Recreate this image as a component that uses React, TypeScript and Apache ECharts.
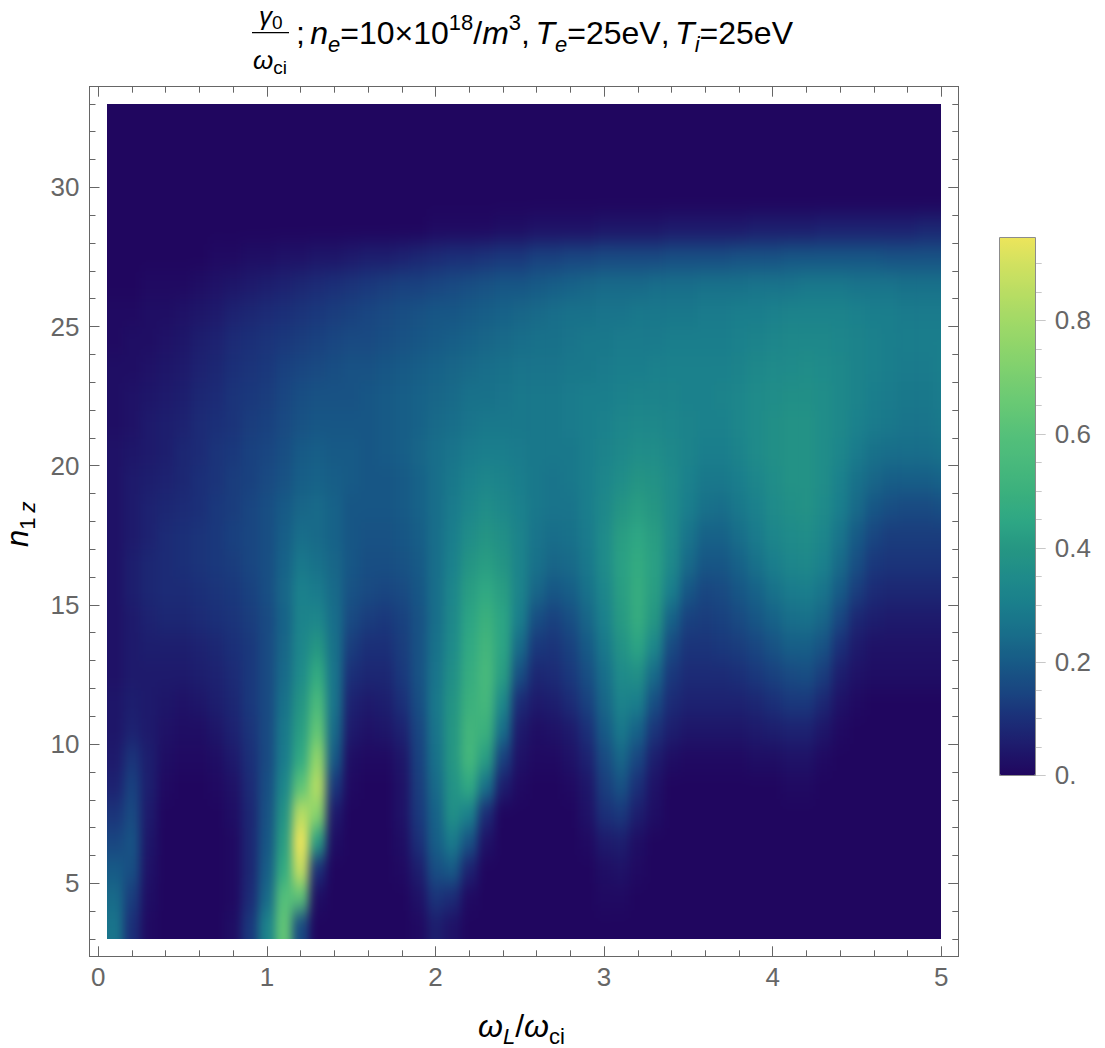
import React, { useEffect, useRef } from "react";
import * as echarts from "echarts";

// Column centres of the gamma grid (omega_L / omega_ci)
const omegaValues = [
  0.1, 0.2, 0.3, 0.4, 0.5, 0.6, 0.7, 0.8, 0.9, 1.0, 1.1, 1.2, 1.3, 1.4, 1.5, 1.6, 1.7, 1.8, 1.9, 2.0, 2.1, 2.2, 2.3, 2.4, 2.5,
  2.6, 2.7, 2.8, 2.9, 3.0, 3.1, 3.2, 3.3, 3.4, 3.5, 3.6, 3.7, 3.8, 3.9, 4.0, 4.1, 4.2, 4.3, 4.4, 4.5, 4.6, 4.7, 4.8, 4.9, 5.0,
];
// Row centres (n_1z)
const n1zValues = [
  3.5, 4.5, 5.5, 6.5, 7.5, 8.5, 9.5, 10.5, 11.5, 12.5, 13.5, 14.5, 15.5, 16.5, 17.5, 18.5, 19.5, 20.5, 21.5, 22.5, 23.5, 24.5,
  25.5, 26.5, 27.5, 28.5, 29.5, 30.5, 31.5, 32.5,
];
// gamma0/omega_ci x 100; one line per n_1z row, bottom row first
const gammaPercent = [
  [27,10,1,0,0,0,0,2,12,32,64,16,0,0,0,0,0,0,1,6,3,0,0,0,0,0,0,0,0,0,0,0,0,0,0,0,0,0,0,0,0,0,0,0,0,0,0,0,0,0],
  [24,13,2,0,0,0,0,1,9,24,60,62,2,0,0,0,0,0,3,11,9,1,0,0,0,0,0,0,0,1,1,0,0,0,0,0,0,0,0,0,0,0,0,0,0,0,0,0,0,0],
  [20,17,3,0,0,0,0,1,8,21,47,88,10,0,0,0,0,1,6,17,20,7,0,0,0,0,0,0,0,2,3,1,0,0,0,0,0,0,0,0,0,0,0,0,0,0,0,0,0,0],
  [15,18,4,0,0,0,0,1,8,19,42,97,42,2,0,0,0,2,10,21,29,18,3,0,0,0,0,0,1,5,6,2,0,0,0,0,0,0,0,0,0,0,0,0,0,0,0,0,0,0],
  [11,16,5,0,0,0,0,2,8,18,38,85,74,5,0,0,0,3,12,22,37,31,9,0,0,0,0,0,3,10,12,6,2,0,0,0,0,0,0,0,0,0,0,0,0,0,0,0,0,0],
  [7,14,6,1,0,0,1,3,9,17,33,62,84,12,1,0,0,3,13,24,38,46,26,6,1,0,0,1,4,13,18,10,3,0,0,0,0,0,0,0,1,1,0,0,0,0,0,0,0,0],
  [5,11,6,2,1,1,2,5,10,16,29,46,76,20,2,1,1,4,14,26,40,54,42,14,3,1,1,3,7,16,23,15,6,2,1,1,1,1,2,2,3,3,1,0,0,0,0,0,0,0],
  [4,7,5,3,2,2,4,7,11,16,28,42,64,24,5,3,4,7,15,27,40,53,50,25,5,2,3,5,10,20,28,22,11,6,4,4,4,4,5,6,7,7,4,1,0,0,0,0,0,0],
  [4,6,5,4,3,4,6,8,12,16,26,39,56,27,7,5,6,10,17,28,39,50,54,34,9,5,6,9,14,23,32,30,17,9,7,7,7,7,8,10,12,12,8,3,1,0,0,0,0,0],
  [3,5,5,5,5,6,7,9,12,16,24,35,47,27,10,8,8,12,18,27,37,48,55,42,17,8,9,12,17,25,35,37,24,12,9,9,9,10,12,14,16,17,13,6,3,2,2,2,2,2],
  [3,5,6,6,6,7,8,10,12,16,23,33,40,26,13,10,10,13,18,26,35,46,53,44,24,12,11,14,20,28,38,44,33,16,11,11,12,13,15,18,21,21,18,10,5,3,3,3,3,3],
  [3,5,7,8,8,9,10,11,13,16,22,32,33,25,16,13,12,14,18,25,34,44,50,44,30,17,14,17,23,31,41,48,40,22,14,13,14,16,19,22,25,26,23,15,8,6,5,5,5,5],
  [3,6,8,9,9,10,11,12,14,17,23,31,29,24,18,16,15,16,19,25,33,42,46,42,32,23,19,21,26,33,42,48,42,30,19,15,16,19,22,26,29,30,27,20,13,9,8,8,8,8],
  [3,6,8,9,10,11,12,13,15,17,22,28,26,23,19,17,17,18,20,25,31,39,42,39,32,26,23,24,28,35,43,47,43,34,24,19,19,22,26,30,33,34,31,24,17,12,11,11,11,11],
  [3,5,7,9,10,11,12,14,15,17,21,25,24,22,19,18,18,19,21,25,30,36,39,37,32,27,25,26,29,35,42,45,42,35,27,22,22,25,29,33,35,36,33,27,20,15,13,13,13,13],
  [3,5,7,8,9,10,12,13,15,17,20,23,24,22,19,19,19,20,22,25,29,33,36,34,31,28,27,27,30,34,39,42,40,35,30,26,25,28,31,35,37,38,35,30,24,19,17,16,16,17],
  [3,5,6,7,8,10,11,13,14,16,18,21,22,21,20,19,19,20,22,25,28,31,33,32,30,28,27,28,30,33,36,39,38,35,31,28,28,30,33,36,38,38,36,31,26,23,21,21,21,22],
  [3,4,5,6,8,9,11,12,14,15,17,20,21,20,20,19,20,21,23,25,27,29,30,30,29,28,28,28,30,32,34,36,36,34,32,30,30,32,35,37,38,38,36,33,29,26,25,25,25,26],
  [2,3,5,6,7,9,10,11,13,14,16,18,19,19,19,19,20,21,22,24,25,27,28,28,28,28,28,29,30,31,33,34,34,33,32,31,31,33,35,37,38,38,36,34,31,29,28,27,27,28],
  [2,3,4,5,6,8,9,11,12,13,15,17,18,18,18,19,20,21,22,23,24,26,26,27,28,28,28,29,30,30,31,32,32,32,31,31,32,33,35,36,37,37,36,34,32,30,29,28,28,29],
  [2,2,3,4,5,7,8,10,11,12,14,15,16,17,18,18,19,20,21,22,23,24,25,26,27,27,27,28,28,29,30,30,31,31,31,31,31,32,34,35,35,36,35,34,32,31,30,29,29,30],
  [1,2,2,3,4,6,7,9,10,11,12,13,14,15,16,16,17,18,19,20,21,22,23,24,25,26,26,27,28,28,29,29,29,30,30,30,30,31,32,33,34,34,34,33,32,31,30,30,30,30],
  [1,1,2,2,3,4,5,7,8,9,10,11,12,13,14,15,16,17,18,19,19,20,21,22,23,24,25,26,26,27,27,28,28,28,28,29,29,30,30,31,32,32,32,32,31,30,30,29,29,29],
  [0,0,1,1,1,2,3,4,5,6,7,8,9,10,11,12,13,14,14,15,16,17,18,19,19,20,21,22,23,24,24,24,25,25,25,26,26,26,27,27,27,28,28,28,27,27,27,26,26,26],
  [0,0,0,0,0,0,1,1,2,2,3,3,4,4,5,6,6,7,8,9,10,10,11,12,12,14,14,15,15,16,16,16,16,17,17,17,17,18,18,18,19,19,19,19,19,19,18,18,18,18],
  [0,0,0,0,0,0,0,0,0,0,0,0,0,0,0,0,0,0,0,1,1,1,1,2,2,3,3,3,3,4,4,4,4,5,5,5,5,5,6,6,6,6,7,7,7,7,7,7,8,8],
  [0,0,0,0,0,0,0,0,0,0,0,0,0,0,0,0,0,0,0,0,0,0,0,0,0,0,0,0,0,0,0,0,0,0,0,0,0,0,0,0,0,0,0,0,0,0,0,0,0,0],
  [0,0,0,0,0,0,0,0,0,0,0,0,0,0,0,0,0,0,0,0,0,0,0,0,0,0,0,0,0,0,0,0,0,0,0,0,0,0,0,0,0,0,0,0,0,0,0,0,0,0],
  [0,0,0,0,0,0,0,0,0,0,0,0,0,0,0,0,0,0,0,0,0,0,0,0,0,0,0,0,0,0,0,0,0,0,0,0,0,0,0,0,0,0,0,0,0,0,0,0,0,0],
  [0,0,0,0,0,0,0,0,0,0,0,0,0,0,0,0,0,0,0,0,0,0,0,0,0,0,0,0,0,0,0,0,0,0,0,0,0,0,0,0,0,0,0,0,0,0,0,0,0,0],
];

// Colour bar stops, every 0.05 from 0 to 0.95
const colorStops = [
  "#20065f", "#1e1a6c", "#1b2f78", "#194681", "#175a86", "#186e8a", "#1a7e8c", "#1f8b8a", "#259683", "#2ea784",
  "#3bb07d", "#48b97c", "#54c07a", "#66c875", "#78ce70", "#8cd46b", "#a0d967", "#b8dd63", "#d0e160", "#ede55b",
];

const xMajorTicks = [0, 1, 2, 3, 4, 5];
const xMinorTicks = [0.2, 0.4, 0.6, 0.8, 1.2, 1.4, 1.6, 1.8, 2.2, 2.4, 2.6, 2.8, 3.2, 3.4, 3.6, 3.8, 4.2, 4.4, 4.6, 4.8];
const yMajorTicks = [5, 10, 15, 20, 25, 30];
const yMinorTicks = [3, 4, 6, 7, 8, 9, 11, 12, 13, 14, 16, 17, 18, 19, 21, 22, 23, 24, 26, 27, 28, 29, 31, 32, 33];
const barMajorTicks = [0, 0.2, 0.4, 0.6, 0.8];
const barMinorTicks = [0.05, 0.1, 0.15, 0.25, 0.3, 0.35, 0.45, 0.5, 0.55, 0.65, 0.7, 0.75, 0.85, 0.9];

// Page geometry
const X0 = 98.3;
const X_UNIT = 168.6;
const Y5 = 883.3;
const Y_UNIT = 27.84;
const FRAME = { left: 89.5, top: 86.7, right: 958.3, bottom: 956.3 };
const HEAT = { left: 106.7, top: 103.9, right: 941.3, bottom: 939 };
const BAR = { left: 999.3, top: 237.3, right: 1035.7, bottom: 775.3 };
const BAR_UNIT = 569;
const xAt = (v: number) => X0 + v * X_UNIT;
const yAt = (v: number) => Y5 - (v - 5) * Y_UNIT;
const FONT = '"Liberation Sans", Arial, sans-serif';

type Piece = { t: string; size: number; italic?: boolean; dy?: number };

const measure = (() => {
  const ctx = document.createElement("canvas").getContext("2d")!;
  return (p: Piece) => {
    ctx.font = `${p.italic ? "italic " : ""}${p.size}px ${FONT}`;
    return ctx.measureText(p.t).width;
  };
})();

// Sets a run of pieces on a baseline, either left-to-right or rotated to read upwards
function run(pieces: Piece[], x: number, baseline: number, vertical = false) {
  let pos = vertical ? baseline : x;
  const out: any[] = [];
  for (const p of pieces) {
    const w = measure(p);
    if (p.t.trim()) {
      const shift = (p.dy ?? 0) - 0.36 * p.size;
      out.push({
        type: "text",
        x: vertical ? x + shift : pos,
        y: vertical ? pos : baseline + shift,
        rotation: vertical ? Math.PI / 2 : 0,
        silent: true,
        style: {
          text: p.t,
          fill: "#000",
          font: `${p.italic ? "italic " : ""}${p.size}px ${FONT}`,
          textAlign: "left",
          textVerticalAlign: "middle",
        },
      });
    }
    pos += vertical ? -w : w;
  }
  return out;
}

// Tick marks of the colour bar, placed from its value scale
const barTicks = (values: number[], length: number) =>
  values.map((v) => {
    const y = Math.round(BAR.bottom - v * BAR_UNIT) + 0.5;
    return {
      type: "line",
      silent: true,
      z: 100,
      shape: { x1: BAR.right, y1: y, x2: BAR.right + length, y2: y },
      style: { stroke: "#c8c8c8", lineWidth: 1 },
    };
  });

const frameAxis = (
  dim: "x" | "y",
  gridIndex: number,
  position: string,
  min: number,
  max: number,
  ticks: number[],
  length: number,
  labels: boolean,
) => ({
  type: "value",
  gridIndex,
  position,
  min,
  max,
  axisLine: { show: true, onZero: false, lineStyle: { color: "#666", width: 1 } },
  axisTick: { show: true, inside: true, length, customValues: ticks, lineStyle: { color: "#666", width: 1 } },
  axisLabel: labels
    ? { show: true, customValues: ticks, color: "#666", fontFamily: FONT, fontSize: 26, margin: dim === "x" ? 8 : 10 }
    : { show: false },
  splitLine: { show: false },
  minorTick: { show: false },
});

export default function App() {
  const heatRef = useRef<HTMLDivElement>(null);
  const topRef = useRef<HTMLDivElement>(null);

  useEffect(() => {
    // Heat layer: edge cells repeat once outside the clip so the smoothing does not fade at the border
    const rows = [gammaPercent[0], ...gammaPercent, gammaPercent[gammaPercent.length - 1]].map((r) => [
      r[0],
      ...r,
      r[r.length - 1],
    ]);
    const xCats = ["", ...omegaValues.map(String), ""].map((s, i) => s || `pad${i}`);
    const yCats = ["", ...n1zValues.map(String), ""].map((s, i) => s || `pad${i}`);
    const cells: number[][] = [];
    rows.forEach((r, j) => r.forEach((v, i) => cells.push([i, j, v / 100])));

    const heat = echarts.init(heatRef.current!, null, { renderer: "svg" });
    heat.setOption({
      animation: false,
      backgroundColor: "#20065f",
      grid: { left: 0, right: 0, top: 0, bottom: 0 },
      xAxis: { type: "category", data: xCats, show: false },
      yAxis: { type: "category", data: yCats, show: false },
      visualMap: { show: false, min: 0, max: 0.95, dimension: 2, inRange: { color: colorStops } },
      series: [{ type: "heatmap", data: cells, progressive: 0, silent: true, itemStyle: { borderWidth: 0 } }],
    });

    const xMin = (FRAME.left - X0) / X_UNIT;
    const xMax = (FRAME.right - X0) / X_UNIT;
    const yMin = 5 - (FRAME.bottom - Y5) / Y_UNIT;
    const yMax = 5 + (Y5 - FRAME.top) / Y_UNIT;
    const barMax = (BAR.bottom - BAR.top) / BAR_UNIT;
    const frameGrid = {
      left: FRAME.left,
      top: FRAME.top,
      width: FRAME.right - FRAME.left,
      height: FRAME.bottom - FRAME.top,
    };
    const barGrid = { left: BAR.left, top: BAR.top, width: BAR.right - BAR.left, height: BAR.bottom - BAR.top };

    const top = echarts.init(topRef.current!, null, { renderer: "svg" });
    top.setOption({
      animation: false,
      grid: [frameGrid, frameGrid, barGrid],
      xAxis: [
        frameAxis("x", 0, "bottom", xMin, xMax, xMajorTicks, 10, true),
        frameAxis("x", 0, "top", xMin, xMax, xMajorTicks, 10, false),
        frameAxis("x", 1, "bottom", xMin, xMax, xMinorTicks, 6, false),
        frameAxis("x", 1, "top", xMin, xMax, xMinorTicks, 6, false),
        { type: "value", gridIndex: 2, position: "bottom", min: 0, max: 1, show: false },
      ],
      yAxis: [
        frameAxis("y", 0, "left", yMin, yMax, yMajorTicks, 10, true),
        frameAxis("y", 0, "right", yMin, yMax, yMajorTicks, 10, false),
        frameAxis("y", 1, "left", yMin, yMax, yMinorTicks, 6, false),
        frameAxis("y", 1, "right", yMin, yMax, yMinorTicks, 6, false),
        {
          type: "value",
          gridIndex: 2,
          position: "right",
          min: 0,
          max: barMax,
          axisLine: { show: false },
          axisTick: { show: false },
          axisLabel: {
            show: true,
            customValues: barMajorTicks,
            color: "#666",
            fontFamily: FONT,
            fontSize: 26,
            margin: 19,
            formatter: (v: number) => (v === 0 ? "0." : String(v)),
          },
          splitLine: { show: false },
        },
      ],
      visualMap: {
        type: "continuous",
        seriesIndex: [],
        min: 0,
        max: 0.95,
        left: BAR.left,
        top: BAR.top,
        itemWidth: BAR.right - BAR.left,
        itemHeight: BAR.bottom - BAR.top,
        padding: 0,
        calculable: false,
        hoverLink: false,
        text: null,
        inRange: { color: colorStops },
      },
      graphic: {
        elements: [
          ...barTicks(barMajorTicks, 10),
          ...barTicks(barMinorTicks, 6),
          {
            type: "rect",
            silent: true,
            z: 100,
            shape: { x: 999.5, y: 237.5, width: 36, height: 538 },
            style: { fill: "none", stroke: "#8c8c8c", lineWidth: 1 },
          },
          ...run([{ t: "γ", size: 26, italic: true }, { t: "0", size: 19, dy: 4 }], 259, 25),
          { type: "rect", silent: true, shape: { x: 252, y: 32, width: 37, height: 1.3 }, style: { fill: "#000" } },
          ...run([{ t: "ω", size: 26, italic: true }, { t: "ci", size: 19, dy: 5 }], 253, 69),
          ...run(
            [
              { t: ";", size: 32 },
              { t: " ", size: 19 },
              { t: "n", size: 32, italic: true },
              { t: "e", size: 22, italic: true, dy: 7 },
              { t: "=10×10", size: 32 },
              { t: "18", size: 22, dy: -15 },
              { t: "/", size: 32 },
              { t: "m", size: 32, italic: true },
              { t: "3", size: 22, dy: -15 },
              { t: ",", size: 32 },
              { t: " ", size: 20 },
              { t: "T", size: 32, italic: true },
              { t: "e", size: 22, italic: true, dy: 7 },
              { t: "=25eV", size: 32 },
              { t: ",", size: 32 },
              { t: " ", size: 20 },
              { t: "T", size: 32, italic: true },
              { t: "i", size: 22, italic: true, dy: 7 },
              { t: "=25eV", size: 32 },
            ],
            296,
            45,
          ),
          ...run(
            [
              { t: "ω", size: 32, italic: true },
              { t: "L", size: 22, italic: true, dy: 6 },
              { t: "/", size: 32 },
              { t: "ω", size: 32, italic: true },
              { t: "ci", size: 22, dy: 6 },
            ],
            478,
            1038,
          ),
          ...run(
            [
              { t: "n", size: 31, italic: true },
              { t: "1", size: 22, dy: 6 },
              { t: " ", size: 18 },
              { t: "z", size: 22, italic: true, dy: 6 },
            ],
            29,
            547,
            true,
          ),
        ],
      },
    });

    return () => {
      heat.dispose();
      top.dispose();
    };
  }, []);

  const heatLeft = xAt(0.05 - 0.1);
  const heatTop = yAt(34);
  const heatW = (omegaValues.length + 2) * 0.1 * X_UNIT;
  const heatH = (n1zValues.length + 2) * Y_UNIT;

  return (
    <div style={{ position: "absolute", left: 0, top: 0, width: 1105, height: 1048, background: "#fff", overflow: "hidden" }}>
      <svg width="0" height="0" style={{ position: "absolute" }}>
        <filter id="heatSmooth" x="-10%" y="-10%" width="120%" height="120%" colorInterpolationFilters="sRGB">
          <feGaussianBlur stdDeviation="5 10" />
        </filter>
      </svg>
      <div
        style={{
          position: "absolute",
          left: HEAT.left,
          top: HEAT.top,
          width: HEAT.right - HEAT.left,
          height: HEAT.bottom - HEAT.top,
          overflow: "hidden",
        }}
      >
        <div
          ref={heatRef}
          style={{
            position: "absolute",
            left: heatLeft - HEAT.left,
            top: heatTop - HEAT.top,
            width: heatW,
            height: heatH,
            filter: "url(#heatSmooth)",
          }}
        />
      </div>
      <div ref={topRef} style={{ position: "absolute", left: 0, top: 0, width: 1105, height: 1048 }} />
    </div>
  );
}
